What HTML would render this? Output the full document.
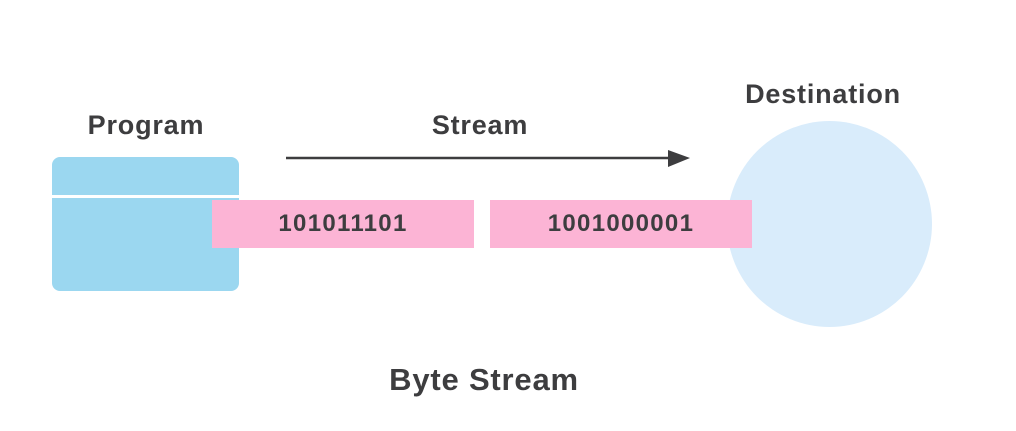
<!DOCTYPE html>
<html><head><style>
body{margin:0;width:1016px;height:431px;background:#fff;overflow:hidden;position:relative;font-family:"Liberation Sans",sans-serif;color:#3d3d3f}
div{position:absolute}
.t{font-weight:bold;font-size:27px;text-align:center;width:300px;letter-spacing:0.8px}
.n{height:48px;background:#fcb4d5;font-weight:bold;font-size:24px;line-height:48px;text-align:center;letter-spacing:1.3px;width:262px;top:200px}
</style></head><body>
<div class="t" style="left:-4px;top:110px">Program</div>
<div class="t" style="left:330px;top:110px">Stream</div>
<div class="t" style="left:673px;top:79px">Destination</div>
<div class="t" style="left:334px;top:362px;font-size:31px">Byte Stream</div>
<div style="left:52px;top:157px;width:187px;height:134px;background:#9bd7f0;border-radius:8px"></div>
<div style="left:52px;top:195px;width:187px;height:3px;background:#fff"></div>
<div style="left:727px;top:121px;width:205px;height:206px;border-radius:50%;background:#d9ecfb"></div>
<div class="n" style="left:212px">101011101</div>
<div class="n" style="left:490px">1001000001</div>
<svg style="position:absolute;left:0;top:0" width="1016" height="431"><line x1="286" y1="158" x2="672" y2="158" stroke="#3d3d3f" stroke-width="2.5"/><polygon points="668,150 690,158 668,167" fill="#3d3d3f"/></svg>
</body></html>
